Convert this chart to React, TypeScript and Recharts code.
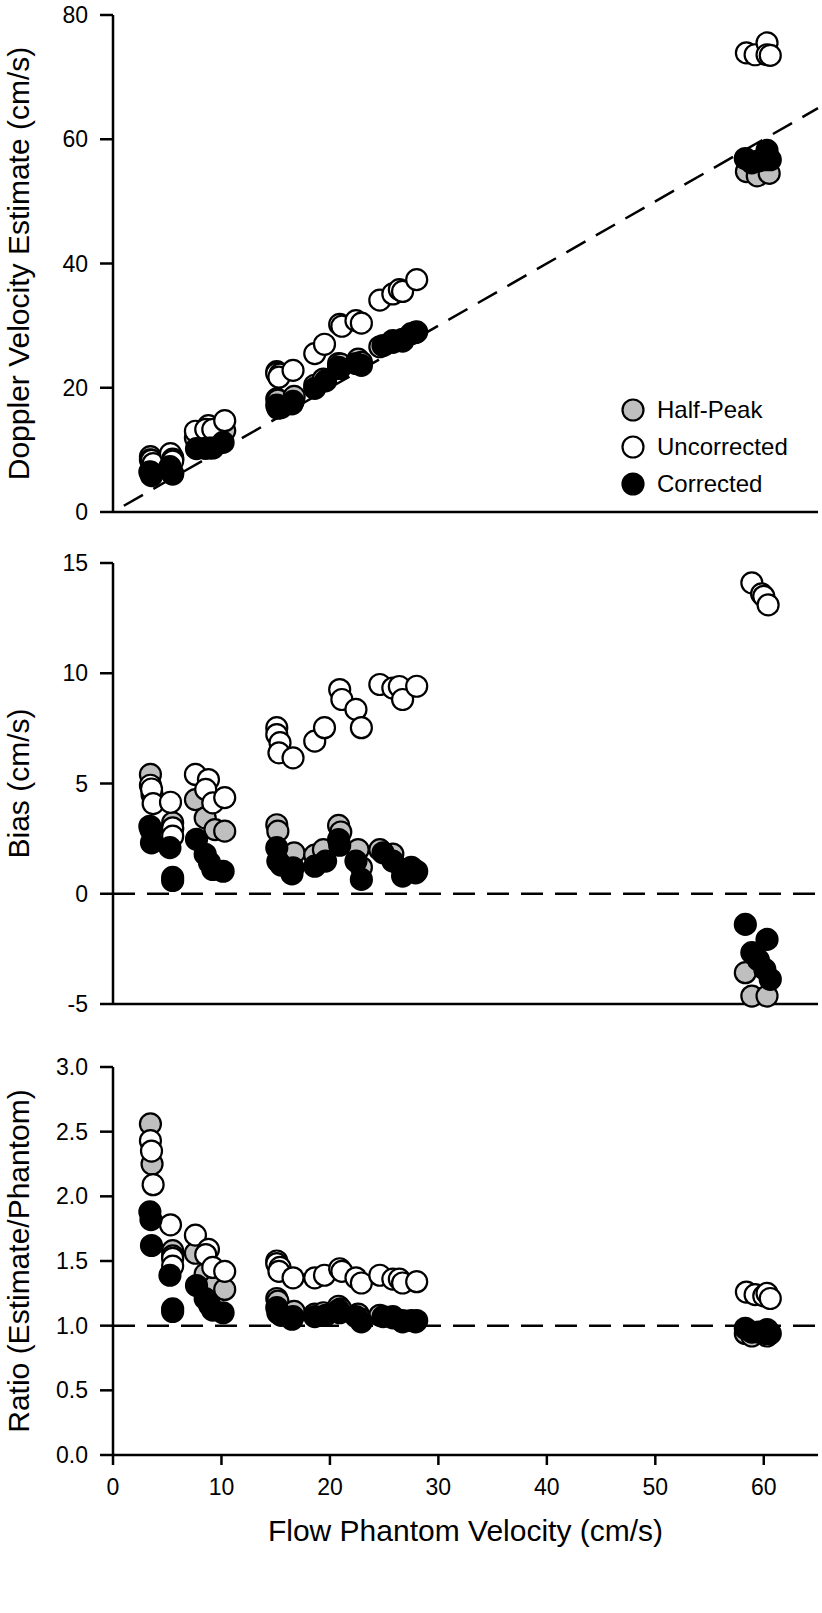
import { ScatterChart, Scatter, XAxis, YAxis, ReferenceLine, Legend } from "recharts";

const X_TICKS = [0, 10, 20, 30, 40, 50, 60];
const ESTIMATE_TICKS = [0, 20, 40, 60, 80];
const BIAS_TICKS = [-5, 0, 5, 10, 15];
const RATIO_TICKS = [0, 0.5, 1, 1.5, 2, 2.5, 3];

// [flow phantom velocity, value]
const halfPeakEstimate = [
  [3.45, 8.9], [3.6, 8.1], [5.5, 8.8], [5.5, 8.5], [7.6, 11.9], [8.5, 11.9], [9.4, 12.3], [10.3, 13.1],
  [15.1, 18.2], [15.2, 18.0], [16.7, 18.6], [18.6, 20.4], [19.4, 21.4], [20.8, 23.9], [21.0, 23.8],
  [22.6, 24.6], [22.9, 24.1], [24.6, 26.6], [25.8, 27.6], [26.7, 27.8], [27.9, 28.9],
  [58.4, 54.8], [59.4, 54.1], [60.5, 54.5],
];
const uncorrectedEstimate = [
  [3.45, 8.4], [3.55, 8.3], [3.7, 7.8], [5.3, 9.4], [5.5, 8.5], [5.5, 8.2], [7.6, 13.0], [8.8, 13.9],
  [8.55, 13.3], [9.2, 13.3], [10.3, 14.7], [15.1, 22.6], [15.1, 22.3], [15.4, 22.2], [15.3, 21.7],
  [16.6, 22.8], [18.6, 25.5], [19.5, 27.0], [20.9, 30.2], [21.1, 29.9], [22.4, 30.8], [22.9, 30.4],
  [24.6, 34.1], [25.8, 35.1], [26.4, 35.8], [26.7, 35.5], [28.0, 37.4],
  [58.4, 73.9], [59.2, 73.6], [60.3, 75.5], [60.3, 73.6], [60.6, 73.5],
];
const correctedEstimate = [
  [3.4, 6.45], [3.5, 6.4], [3.55, 5.85], [5.25, 7.3], [5.5, 6.2], [5.5, 6.1], [7.7, 10.2], [8.5, 10.25],
  [8.9, 10.3], [9.2, 10.3], [10.15, 11.2], [15.1, 17.2], [15.2, 16.7], [15.5, 16.8], [16.6, 17.8],
  [16.5, 17.4], [18.6, 19.9], [19.6, 21.1], [20.8, 23.3], [20.9, 23.1], [22.4, 23.9], [22.9, 23.6],
  [24.9, 26.8], [25.8, 27.3], [26.7, 27.5], [27.5, 28.7], [28.0, 29.0],
  [58.3, 56.9], [58.9, 56.2], [59.5, 56.5], [60.1, 56.7], [60.3, 58.2], [60.6, 56.7],
];

const halfPeakBias = [
  [3.45, 5.41], [3.6, 4.5], [5.5, 3.22], [5.5, 2.95], [7.6, 4.27], [8.5, 3.44], [9.4, 2.91], [10.3, 2.84],
  [15.1, 3.13], [15.2, 2.84], [16.7, 1.85], [18.6, 1.75], [19.4, 2.0], [20.8, 3.1], [21.0, 2.8],
  [22.6, 2.0], [22.9, 1.2], [24.6, 2.0], [25.8, 1.8], [26.7, 1.1], [27.9, 0.95],
  [58.3, -3.58], [58.9, -4.64], [60.3, -4.64],
];
const uncorrectedBias = [
  [3.45, 4.92], [3.55, 4.75], [3.7, 4.09], [5.3, 4.15], [5.5, 2.99], [5.5, 2.61], [7.6, 5.41], [8.8, 5.18],
  [8.55, 4.73], [9.2, 4.12], [10.3, 4.36], [15.1, 7.53], [15.1, 7.22], [15.4, 6.85], [15.3, 6.39],
  [16.6, 6.16], [18.6, 6.92], [19.5, 7.53], [20.9, 9.26], [21.1, 8.81], [22.4, 8.36], [22.9, 7.53],
  [24.6, 9.49], [25.8, 9.33], [26.4, 9.4], [26.7, 8.81], [28.0, 9.41],
  [58.9, 14.1], [59.8, 13.6], [60.0, 13.49], [60.4, 13.1],
];
const correctedBias = [
  [3.4, 3.06], [3.5, 2.9], [3.55, 2.31], [5.25, 2.09], [5.5, 0.74], [5.5, 0.6], [7.7, 2.47], [8.5, 1.79],
  [8.9, 1.41], [9.2, 1.1], [10.15, 1.02], [15.1, 2.09], [15.2, 1.48], [15.5, 1.3], [16.6, 1.18],
  [16.5, 0.9], [18.6, 1.25], [19.6, 1.48], [20.8, 2.46], [20.9, 2.2], [22.4, 1.48], [22.9, 0.65],
  [24.9, 1.86], [25.8, 1.48], [26.7, 0.8], [27.5, 1.2], [28.0, 1.02],
  [58.3, -1.39], [58.9, -2.67], [59.5, -3.0], [60.1, -3.43], [60.3, -2.07], [60.6, -3.88],
];

const halfPeakRatio = [
  [3.45, 2.56], [3.6, 2.25], [5.5, 1.58], [5.5, 1.54], [7.6, 1.56], [8.5, 1.4], [9.4, 1.31], [10.3, 1.28],
  [15.1, 1.21], [15.2, 1.19], [16.7, 1.11], [18.6, 1.09], [19.4, 1.1], [20.8, 1.15], [21.0, 1.13],
  [22.6, 1.09], [22.9, 1.05], [24.6, 1.08], [25.8, 1.07], [26.7, 1.04], [27.9, 1.03],
  [58.3, 0.94], [58.9, 0.92], [60.3, 0.92],
];
const uncorrectedRatio = [
  [3.45, 2.43], [3.55, 2.35], [3.7, 2.09], [5.3, 1.78], [5.5, 1.52], [5.5, 1.46], [7.6, 1.7], [8.8, 1.59],
  [8.55, 1.55], [9.2, 1.45], [10.3, 1.42], [15.1, 1.5], [15.1, 1.48], [15.4, 1.45], [15.3, 1.42],
  [16.6, 1.37], [18.6, 1.37], [19.5, 1.39], [20.9, 1.44], [21.1, 1.42], [22.4, 1.37], [22.9, 1.33],
  [24.6, 1.39], [25.8, 1.36], [26.4, 1.36], [26.7, 1.33], [28.0, 1.34],
  [58.4, 1.26], [59.2, 1.24], [60.0, 1.23], [60.3, 1.25], [60.6, 1.21],
];
const correctedRatio = [
  [3.4, 1.88], [3.5, 1.82], [3.55, 1.62], [5.25, 1.39], [5.5, 1.13], [5.5, 1.11], [7.7, 1.31], [8.5, 1.21],
  [8.9, 1.16], [9.2, 1.12], [10.15, 1.1], [15.1, 1.14], [15.2, 1.1], [15.5, 1.08], [16.6, 1.07],
  [16.5, 1.05], [18.6, 1.07], [19.6, 1.08], [20.8, 1.12], [20.9, 1.1], [22.4, 1.07], [22.9, 1.03],
  [24.9, 1.07], [25.8, 1.06], [26.7, 1.03], [27.5, 1.04], [28.0, 1.04],
  [58.3, 0.98], [58.9, 0.95], [59.5, 0.95], [60.1, 0.94], [60.3, 0.97], [60.6, 0.94],
];

const FONT = "'Liberation Sans', Arial, Helvetica, sans-serif";
const GREY = "#bfbfbf";
const R = 10.5;

const SERIES = [
  { name: "Half-Peak", fill: GREY },
  { name: "Uncorrected", fill: "#ffffff" },
  { name: "Corrected", fill: "#000000" },
];

const pts = (arr: number[][]) => arr.map(([x, y]) => ({ x, y }));

const dot = (fill: string) => (props: any) => (
  <circle cx={props.cx} cy={props.cy} r={R} fill={fill} stroke="#000" strokeWidth={2.2} />
);

const yTitle = (text: string) => (props: any) => {
  const vb = props.viewBox;
  const cy = vb.y + vb.height / 2;
  return (
    <text x={18} y={cy} transform={`rotate(-90 18 ${cy})`} textAnchor="middle" dominantBaseline="central"
      fontSize={30} fill="#000" fontFamily={FONT}>{text}</text>
  );
};

const xTitle = (props: any) => {
  const vb = props.viewBox;
  return (
    <text x={vb.x + vb.width / 2} y={vb.y + 86} textAnchor="middle" fontSize={30} fill="#000" fontFamily={FONT}>
      Flow Phantom Velocity (cm/s)
    </text>
  );
};

const axisLine = { stroke: "#000", strokeWidth: 2.5 };
const tickStyle = { fill: "#000", fontSize: 23, fontFamily: FONT };

function LegendBox() {
  return (
    <div style={{ fontFamily: FONT, fontSize: 24, color: "#000" }}>
      {SERIES.map((s) => (
        <div key={s.name} style={{ display: "flex", alignItems: "center", height: 36.7 }}>
          <svg width={24} height={24} style={{ display: "block" }}>
            <circle cx={12} cy={12} r={R} fill={s.fill} stroke="#000" strokeWidth={2.2} />
          </svg>
          <span style={{ marginLeft: 12, lineHeight: 1 }}>{s.name}</span>
        </div>
      ))}
    </div>
  );
}

function seriesFor(sets: number[][][]) {
  return SERIES.map((s, i) => (
    <Scatter key={s.name} name={s.name} data={pts(sets[i])} shape={dot(s.fill)} isAnimationActive={false} />
  ));
}

export default function App() {
  return (
    <div style={{ position: "absolute", left: 0, top: 0, width: 822, height: 1613, background: "#fff", fontFamily: FONT }}>
      <div style={{ position: "absolute", left: 0, top: 0 }}>
        <ScatterChart width={822} height={540} margin={{ top: 15, right: 4, bottom: 0, left: 0 }}>
          <XAxis type="number" dataKey="x" domain={[0, 65]} ticks={X_TICKS} interval={0} height={28}
            tick={false} axisLine={axisLine} tickLine={axisLine} tickSize={10} />
          <YAxis type="number" dataKey="y" domain={[0, 80]} ticks={ESTIMATE_TICKS} interval={0} width={113}
            tick={tickStyle} axisLine={axisLine} tickLine={axisLine} tickSize={13} tickMargin={12}
            label={yTitle("Doppler Velocity Estimate (cm/s)")} />
          <ReferenceLine segment={[{ x: 1, y: 1 }, { x: 65, y: 65 }]} stroke="#000" strokeWidth={2.5} strokeDasharray="22 12" />
          {seriesFor([halfPeakEstimate, uncorrectedEstimate, correctedEstimate])}
          <Legend layout="vertical" align="center" verticalAlign="middle" content={() => <LegendBox />}
            wrapperStyle={{ left: 621, top: 392, width: 200, height: 112 }} />
        </ScatterChart>
      </div>
      <div style={{ position: "absolute", left: 0, top: 540 }}>
        <ScatterChart width={822} height={500} margin={{ top: 23, right: 4, bottom: 0, left: 0 }}>
          <XAxis type="number" dataKey="x" domain={[0, 65]} ticks={X_TICKS} interval={0} height={36}
            tick={false} axisLine={axisLine} tickLine={axisLine} tickSize={10} />
          <YAxis type="number" dataKey="y" domain={[-5, 15]} ticks={BIAS_TICKS} interval={0} width={113}
            tick={tickStyle} axisLine={axisLine} tickLine={axisLine} tickSize={13} tickMargin={12}
            label={yTitle("Bias (cm/s)")} />
          <ReferenceLine y={0} stroke="#000" strokeWidth={2.5} strokeDasharray="22 12" />
          {seriesFor([halfPeakBias, uncorrectedBias, correctedBias])}
        </ScatterChart>
      </div>
      <div style={{ position: "absolute", left: 0, top: 1045 }}>
        <ScatterChart width={822} height={568} margin={{ top: 22, right: 4, bottom: 58, left: 0 }}>
          <XAxis type="number" dataKey="x" domain={[0, 65]} ticks={X_TICKS} interval={0} height={100}
            tick={tickStyle} axisLine={axisLine} tickLine={axisLine} tickSize={10} tickMargin={14}
            label={xTitle} />
          <YAxis type="number" dataKey="y" domain={[0, 3]} ticks={RATIO_TICKS} interval={0} width={113}
            tick={tickStyle} axisLine={axisLine} tickLine={axisLine} tickSize={13} tickMargin={12}
            tickFormatter={(v: number) => v.toFixed(1)} label={yTitle("Ratio (Estimate/Phantom)")} />
          <ReferenceLine y={1} stroke="#000" strokeWidth={2.5} strokeDasharray="22 12" />
          {seriesFor([halfPeakRatio, uncorrectedRatio, correctedRatio])}
        </ScatterChart>
      </div>
    </div>
  );
}
